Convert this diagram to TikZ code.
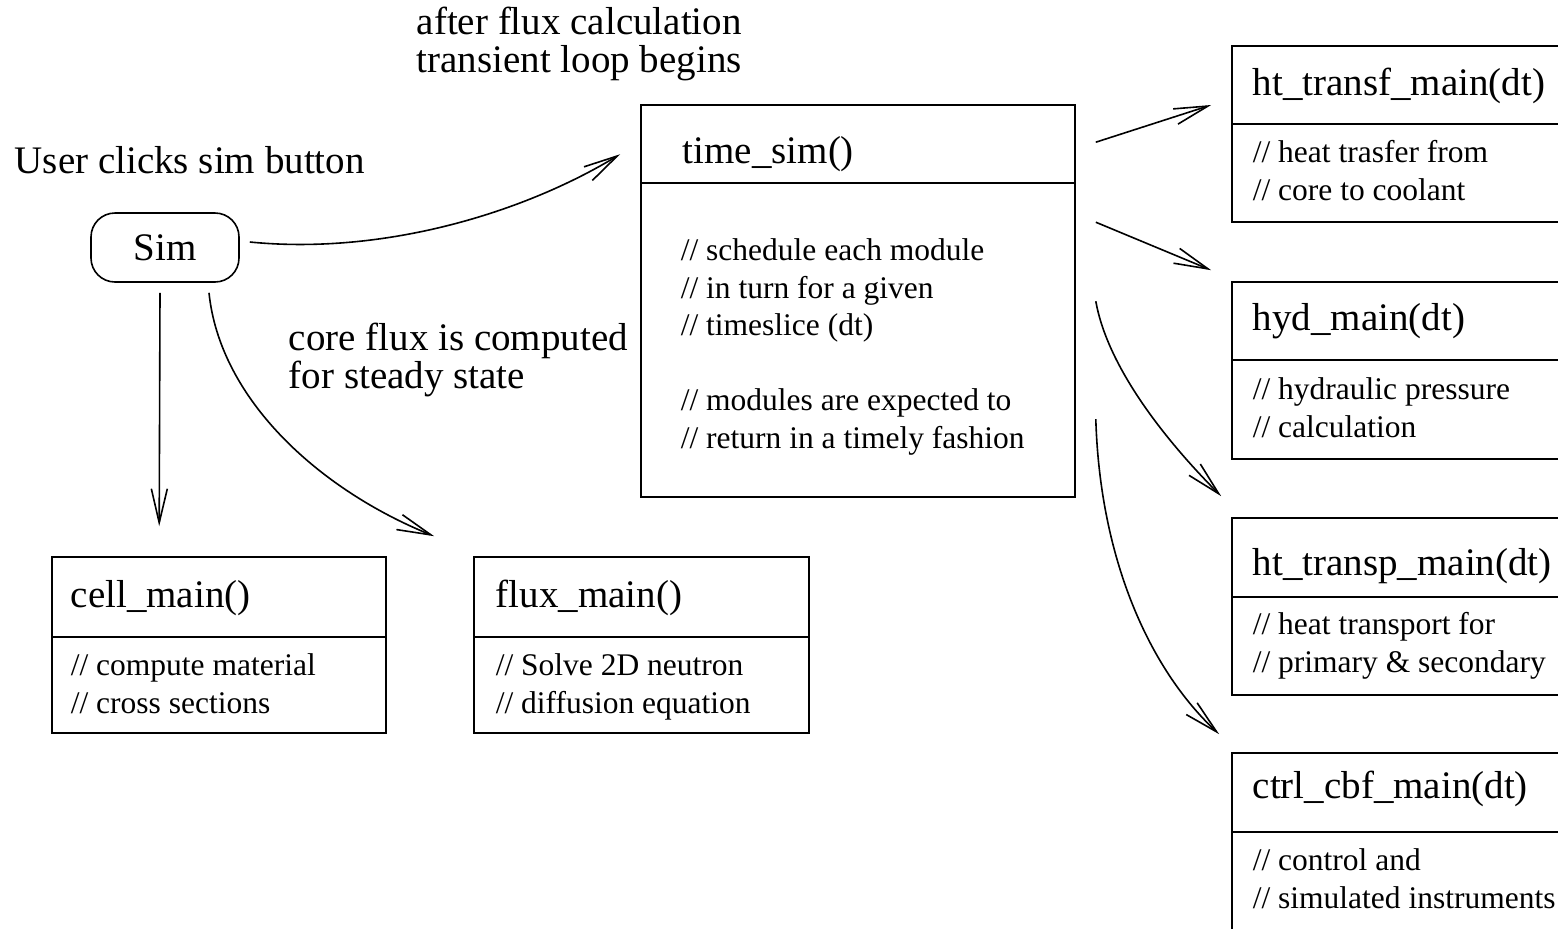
\documentclass[tikz,border=0pt]{standalone}
\usepackage{fontspec}
\setmainfont{Liberation Serif}
\usepackage{tikz}
\usetikzlibrary{arrows.meta,calc}
\newcommand{\bigfont}{\fontsize{19.5}{19}\selectfont}
\newcommand{\notefont}{\fontsize{15.75}{18.75}\selectfont}
\tikzset{
	module/.style  = {draw, rectangle, inner sep=0pt},
	button/.style  = {draw, rectangle, rounded corners=12pt, minimum width=74pt,
		minimum height=34.5pt, inner sep=0pt, font=\bigfont},
	title/.style   = {anchor=base west, inner sep=0pt, font=\bigfont}, % module name
	note/.style    = {anchor=base west, inner sep=0pt, align=left, font=\notefont}, % comment lines, placed at last line
	remark/.style  = {anchor=base west, inner sep=0pt, align=left, font=\bigfont}
}

\begin{document}
\begin{tikzpicture}[x=0.5pt, y=-0.5pt, line width=0.8pt, >={Straight Barb[length=17pt,width=8pt]}]
	\clip (0,0) rectangle (1558,928);
	
	% start button and the modules
	\node[button] (sim) at (165,247.5) {Sim};
	\node[module, minimum width=217pt, minimum height=196pt] (timesim) at (858,301) {};
	\node[module, minimum width=167pt, minimum height=88pt] (cell) at (219,645) {};
	\node[module, minimum width=167.5pt, minimum height=88pt] (flux) at (641.5,645) {};
	\node[module, minimum width=200pt, minimum height=88pt] (transf) at (1432,134) {};
	\node[module, minimum width=200pt, minimum height=88.5pt] (hyd) at (1432,370.5) {};
	\node[module, minimum width=200pt, minimum height=88.5pt] (transp) at (1432,606.5) {};
	\node[module, minimum width=200pt, minimum height=88.5pt] (ctrl) at (1432,841.5) {};
	
	\foreach \m/\y in {timesim/183, cell/637, flux/637, transf/124, hyd/360, transp/597, ctrl/832}
		\draw (\m.west |- 0,\y) -- (\m.east |- 0,\y);
	
	% names and comments
	\node[title] (timesim-t) at (682,163) {time\_sim()};
	\node[note] (timesim-n) at (680,448) {// schedule each module\\// in turn for a given\\// timeslice (dt)\\[18.75pt]// modules are expected to\\// return in a timely fashion};
	\node[title] (cell-t) at (70,607) {cell\_main()};
	\node[note] (cell-n) at (70,713) {// compute material\\// cross sections};
	\node[title] (flux-t) at (495,607) {flux\_main()};
	\node[note] (flux-n) at (495,713) {// Solve 2D neutron\\// diffusion equation};
	\node[title] (transf-t) at (1252,95) {ht\_transf\_main(dt)};
	\node[note] (transf-n) at (1252,200) {// heat trasfer from\\// core to coolant};
	\node[title] (hyd-t) at (1252,330) {hyd\_main(dt)};
	\node[note] (hyd-n) at (1252,437) {// hydraulic pressure\\// calculation};
	\node[title] (transp-t) at (1252,575) {ht\_transp\_main(dt)};
	\node[note] (transp-n) at (1252,672) {// heat transport for\\// primary \& secondary};
	\node[title] (ctrl-t) at (1252,798) {ctrl\_cbf\_main(dt)};
	\node[note] (ctrl-n) at (1252,908) {// control and\\// simulated instruments};
	
	% free remarks
	\node[remark] (click) at (14,173) {User clicks sim button};
	\node[remark] (loop) at (416,72) {after flux calculation\\transient loop begins};
	\node[remark] (steady) at (288,388) {core flux is computed\\for steady state};
	
	% arrows
	\draw[->] ($(sim.east)+(10,-5.5)$) .. controls (380,255) and (520,215) .. ($(timesim.north west)+(-20,50)$);
	\draw[->] ($(sim.south)+(-5,10)$) -- ($(cell.north west)+(108,-30)$);
	\draw[->] ($(sim.south)+(44,10)$) .. controls (220,400) and (320,490) .. ($(flux.north west)+(-39,-20)$);
	\draw[->] ($(timesim.north east)+(20,38)$) -- ($(transf.west)+(-20,-29)$);
	\draw[->] ($(timesim.north east)+(20,118)$) -- ($(hyd.north west)+(-20,-11)$);
	\draw[->] ($(timesim.north east)+(20,197)$) .. controls (1108,370) and (1170,445) .. ($(transp.north west)+(-10,-21)$);
	\draw[->] ($(timesim.north east)+(20,315)$) .. controls (1100,560) and (1150,670) .. ($(ctrl.north west)+(-12,-18)$);
\end{tikzpicture}
\end{document}
